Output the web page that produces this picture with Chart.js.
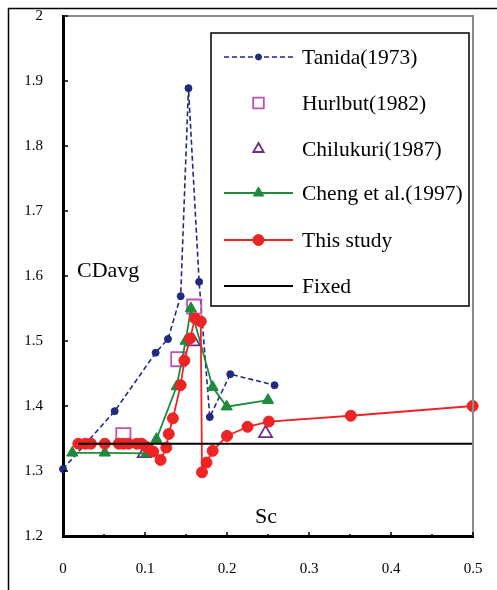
<!DOCTYPE html>
<html>
<head>
<meta charset="utf-8">
<script src="https://cdn.jsdelivr.net/npm/chart.js@4.4.1/dist/chart.umd.min.js"></script>
<style>
  html, body { margin: 0; padding: 0; background: #fff; }
  canvas { display: block; }
</style>
</head>
<body>
<canvas id="cdChart" width="497" height="590"></canvas>
<script>
// Sc vs CDavg for each source
const tanidaSc = [0, 0.063, 0.113, 0.128, 0.1435, 0.153, 0.166, 0.179, 0.204, 0.258];
const tanidaCd = [1.303, 1.392, 1.482, 1.503, 1.569, 1.889, 1.591, 1.383, 1.449, 1.432];

const hurlbutSc = [0.0736, 0.1406, 0.16];
const hurlbutCd = [1.355, 1.472, 1.553];

const chilukuriSc = [0.099, 0.159, 0.247];
const chilukuriCd = [1.327, 1.499, 1.358];

const chengSc = [0.0114, 0.051, 0.102, 0.114, 0.1386, 0.1496, 0.156, 0.1825, 0.1996, 0.25];
const chengCd = [1.328, 1.328, 1.327, 1.349, 1.43, 1.5, 1.55, 1.429, 1.399, 1.409];

const studySc = [0.0187, 0.027, 0.034, 0.051, 0.068, 0.074, 0.08, 0.09, 0.096, 0.102, 0.11,
  0.119, 0.126, 0.129, 0.134, 0.1435, 0.148, 0.155, 0.161, 0.168, 0.1695, 0.175, 0.1825,
  0.2, 0.225, 0.251, 0.351, 0.4996];
const studyCd = [1.342, 1.342, 1.342, 1.342, 1.342, 1.342, 1.342, 1.342, 1.342, 1.337, 1.33,
  1.317, 1.336, 1.357, 1.381, 1.432, 1.47, 1.504, 1.535, 1.53, 1.298, 1.313, 1.331,
  1.354, 1.368, 1.376, 1.385, 1.4];

const fixedSc = [0.0187, 0.5];
const fixedCd = [1.342, 1.342];

const xTicks = [0, 0.1, 0.2, 0.3, 0.4, 0.5];
const yTicks = [1.2, 1.3, 1.4, 1.5, 1.6, 1.7, 1.8, 1.9, 2];

const SERIF = '"Liberation Serif", "Times New Roman", serif';

const pts = (xs, ys) => xs.map((x, i) => ({ x, y: ys[i] }));

// frame, inward ticks, axis captions and the boxed legend
const decorations = {
  id: 'decorations',
  afterDraw(chart) {
    const { ctx, chartArea: a, scales } = chart;
    const xs = scales.x, ys = scales.y;
    ctx.save();

    // outer frame (left + top)
    ctx.strokeStyle = '#000';
    ctx.lineWidth = 1.5;
    ctx.beginPath();
    ctx.moveTo(8.5, 590);
    ctx.lineTo(8.5, 8.5);
    ctx.lineTo(497, 8.5);
    ctx.stroke();

    // gray top/right of plot area
    ctx.strokeStyle = '#8c8c8c';
    ctx.lineWidth = 2;
    ctx.beginPath();
    ctx.moveTo(a.left, a.top);
    ctx.lineTo(a.right, a.top);
    ctx.lineTo(a.right, a.bottom);
    ctx.stroke();

    // inward tick marks
    ctx.strokeStyle = '#000';
    ctx.lineWidth = 1.5;
    ctx.beginPath();
    yTicks.forEach(v => {
      const y = ys.getPixelForValue(v);
      ctx.moveTo(a.left, y);
      ctx.lineTo(a.left + 5, y);
    });
    for (let v = 0.05; v < 0.5; v += 0.05) {
      const x = xs.getPixelForValue(v);
      const major = Math.abs(v * 10 - Math.round(v * 10)) < 1e-6;
      ctx.moveTo(x, a.bottom);
      ctx.lineTo(x, a.bottom - (major ? 4 : 2));
    }
    ctx.stroke();

    // axis captions
    ctx.fillStyle = '#000';
    ctx.font = '22px ' + SERIF;
    ctx.textBaseline = 'alphabetic';
    ctx.textAlign = 'left';
    ctx.fillText('CDavg', 77, 277);
    ctx.fillText('Sc', 255, 523);

    // legend box
    const bx = 211, by = 33, bw = 258, bh = 273;
    ctx.fillStyle = '#fff';
    ctx.fillRect(bx, by, bw, bh);
    ctx.strokeStyle = '#000';
    ctx.lineWidth = 1.5;
    ctx.strokeRect(bx, by, bw, bh);

    const rowY = [57, 103, 149, 193, 240, 286];
    chart.data.datasets.forEach((ds, i) => {
      const y = rowY[i];
      const x0 = 224, x1 = 293, xm = 258.5;
      if (ds.showLine) {
        ctx.strokeStyle = ds.borderColor;
        ctx.lineWidth = ds.borderWidth;
        ctx.setLineDash(ds.borderDash || []);
        ctx.beginPath();
        ctx.moveTo(x0, y);
        ctx.lineTo(x1, y);
        ctx.stroke();
        ctx.setLineDash([]);
      }
      if (ds.pointRadius > 0) {
        ctx.fillStyle = ds.pointBackgroundColor;
        ctx.strokeStyle = ds.pointBorderColor;
        ctx.lineWidth = ds.pointBorderWidth;
        Chart.helpers.drawPoint(ctx, {
          pointStyle: ds.pointStyle,
          radius: ds.legendRadius,
          rotation: 0,
          borderWidth: ds.pointBorderWidth
        }, xm, y);
      }
      ctx.fillStyle = '#000';
      ctx.font = '21.5px ' + SERIF;
      ctx.textBaseline = 'middle';
      ctx.textAlign = 'left';
      ctx.fillText(ds.label, 302, y + 1);
    });

    ctx.restore();
  }
};

new Chart(document.getElementById('cdChart'), {
  type: 'scatter',
  data: {
    datasets: [
      {
        label: 'Tanida(1973)',
        data: pts(tanidaSc, tanidaCd),
        showLine: true,
        borderColor: '#1f2a80',
        borderWidth: 1.6,
        borderDash: [5, 3],
        pointStyle: 'circle',
        pointRadius: 3.5,
        legendRadius: 3,
        pointBackgroundColor: '#1f2a80',
        pointBorderColor: '#1f2a80',
        pointBorderWidth: 1,
        clip: false,
        order: 6
      },
      {
        label: 'Hurlbut(1982)',
        data: pts(hurlbutSc, hurlbutCd),
        showLine: false,
        pointStyle: 'rect',
        pointRadius: 10,
        legendRadius: 7.5,
        pointBackgroundColor: 'rgba(0,0,0,0)',
        pointBorderColor: '#c24fb5',
        pointBorderWidth: 1.8,
        order: 5
      },
      {
        label: 'Chilukuri(1987)',
        data: pts(chilukuriSc, chilukuriCd),
        showLine: false,
        pointStyle: 'triangle',
        pointRadius: 7.5,
        legendRadius: 6,
        pointBackgroundColor: 'rgba(0,0,0,0)',
        pointBorderColor: '#6e2a8c',
        pointBorderWidth: 1.8,
        order: 4
      },
      {
        label: 'Cheng et al.(1997)',
        data: pts(chengSc, chengCd),
        showLine: true,
        borderColor: '#1d8a3c',
        borderWidth: 1.8,
        pointStyle: 'triangle',
        pointRadius: 6.5,
        legendRadius: 6,
        pointBackgroundColor: '#1d8a3c',
        pointBorderColor: '#1d8a3c',
        pointBorderWidth: 1,
        order: 3
      },
      {
        label: 'This study',
        data: pts(studySc, studyCd),
        showLine: true,
        borderColor: '#ee2424',
        borderWidth: 1.8,
        pointStyle: 'circle',
        pointRadius: 5.5,
        legendRadius: 5.5,
        pointBackgroundColor: '#ee2424',
        pointBorderColor: '#ee2424',
        pointBorderWidth: 1,
        clip: false,
        order: 2
      },
      {
        label: 'Fixed',
        data: pts(fixedSc, fixedCd),
        showLine: true,
        borderColor: '#000',
        borderWidth: 2,
        pointRadius: 0,
        legendRadius: 0,
        pointBorderWidth: 0,
        order: 1
      }
    ]
  },
  options: {
    responsive: false,
    animation: false,
    layout: { padding: { left: 0, top: 16, right: 24, bottom: 0 } },
    plugins: {
      legend: { display: false },
      tooltip: { enabled: false }
    },
    elements: { line: { tension: 0 } },
    scales: {
      x: {
        type: 'linear',
        min: 0,
        max: 0.5,
        afterFit: s => {
          s.height = 54;
          s.paddingLeft = 0;
          s.paddingRight = 0;
        },
        afterBuildTicks: s => { s.ticks = xTicks.map(v => ({ value: v })); },
        grid: { display: false, drawTicks: false },
        border: { display: true, color: '#000', width: 3 },
        ticks: {
          padding: 24,
          color: '#000',
          font: { family: SERIF, size: 15 },
          callback: v => String(+v.toFixed(1))
        }
      },
      y: {
        type: 'linear',
        min: 1.2,
        max: 2,
        afterFit: s => {
          s.width = 63;
          s.paddingTop = 0;
          s.paddingBottom = 0;
        },
        afterBuildTicks: s => { s.ticks = yTicks.map(v => ({ value: v })); },
        grid: { display: false, drawTicks: false },
        border: { display: true, color: '#000', width: 3 },
        ticks: {
          padding: 20,
          color: '#000',
          font: { family: SERIF, size: 15 },
          callback: v => String(+v.toFixed(1))
        }
      }
    }
  },
  plugins: [decorations]
});
</script>
</body>
</html>
